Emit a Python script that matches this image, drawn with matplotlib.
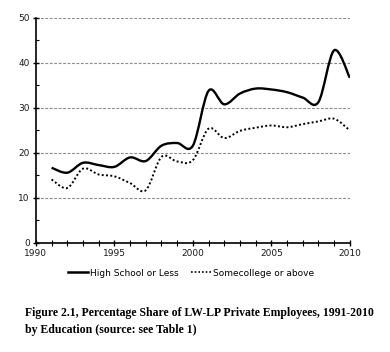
import matplotlib
matplotlib.use("Agg")
import matplotlib.pyplot as plt
from matplotlib.path import Path
from matplotlib.patches import PathPatch
from matplotlib.lines import Line2D
from matplotlib.ticker import MultipleLocator

years = list(range(1991, 2011))
high_school = [16.7, 15.6, 17.8, 17.3, 16.9, 19.0, 18.2, 21.6, 22.2, 21.6,
               33.8, 30.8, 33.2, 34.3, 34.1, 33.5, 32.3, 31.3, 42.8, 36.7]
some_college = [14.1, 12.2, 16.5, 15.2, 14.8, 13.3, 11.7, 19.1, 18.1, 18.4,
                25.4, 23.3, 24.9, 25.6, 26.1, 25.7, 26.4, 27.0, 27.6, 25.0]
series_names = ["High School or Less", "Somecollege or above"]


def smooth_path(xs, ys):
    # excel-style smoothed line: bezier segments with catmull-rom control points
    pts = list(zip(xs, ys))
    verts = [pts[0]]
    codes = [Path.MOVETO]
    n = len(pts)
    for i in range(n - 1):
        p0 = pts[i - 1] if i > 0 else pts[i]
        p1 = pts[i]
        p2 = pts[i + 1]
        p3 = pts[i + 2] if i + 2 < n else pts[i + 1]
        c1 = (p1[0] + (p2[0] - p0[0]) / 6, p1[1] + (p2[1] - p0[1]) / 6)
        c2 = (p2[0] - (p3[0] - p1[0]) / 6, p2[1] - (p3[1] - p1[1]) / 6)
        verts += [c1, c2, p2]
        codes += [Path.CURVE4] * 3
    return Path(verts, codes)


fig = plt.figure(figsize=(3.9, 3.52), dpi=100)
ax = fig.add_axes([0.092, 0.31, 0.805, 0.639])

ax.add_patch(PathPatch(smooth_path(years, high_school), fill=False,
                       lw=1.7, color="black", capstyle="butt"))
ax.add_patch(PathPatch(smooth_path(years, some_college), fill=False,
                       lw=1.4, color="black", linestyle=(0, (1, 1.2))))

ax.set_xlim(1990, 2010)
ax.set_ylim(0, 50)
ax.xaxis.set_major_locator(MultipleLocator(5))
ax.xaxis.set_minor_locator(MultipleLocator(1))
ax.yaxis.set_major_locator(MultipleLocator(10))
ax.yaxis.set_minor_locator(MultipleLocator(5))

for y in range(10, 51, 10):
    ax.axhline(y, color="#8a8a8a", lw=0.8, ls=(0, (2.5, 1.5)), zorder=0)

for s in ["top", "right"]:
    ax.spines[s].set_visible(False)
for s in ["left", "bottom"]:
    ax.spines[s].set_linewidth(1.2)

ax.tick_params(which="major", direction="inout", length=5, width=1.0,
               labelsize=6.5, labelcolor="#1a1a1a", pad=2)
ax.tick_params(which="minor", direction="inout", length=4, width=0.8)
ax.tick_params(axis="y", which="minor", direction="in", length=2.5)

handles = [Line2D([], [], color="black", lw=1.8),
           Line2D([], [], color="black", lw=1.2, linestyle=(0, (1, 1.2)))]
fig.legend(handles, series_names, loc="center", bbox_to_anchor=(0.49, 0.224),
           ncol=2, frameon=False, fontsize=6.5, handlelength=2.2,
           handletextpad=0.2, columnspacing=1.4)

fig.text(0.064, 0.11, "Figure 2.1, Percentage Share of LW-LP Private Employees, 1991-2010",
         family="Liberation Serif", weight="bold", fontsize=8.5, va="center")
fig.text(0.064, 0.062, "by Education (source: see Table 1)",
         family="Liberation Serif", weight="bold", fontsize=8.5, va="center")

fig.savefig("out.png", dpi=100)
